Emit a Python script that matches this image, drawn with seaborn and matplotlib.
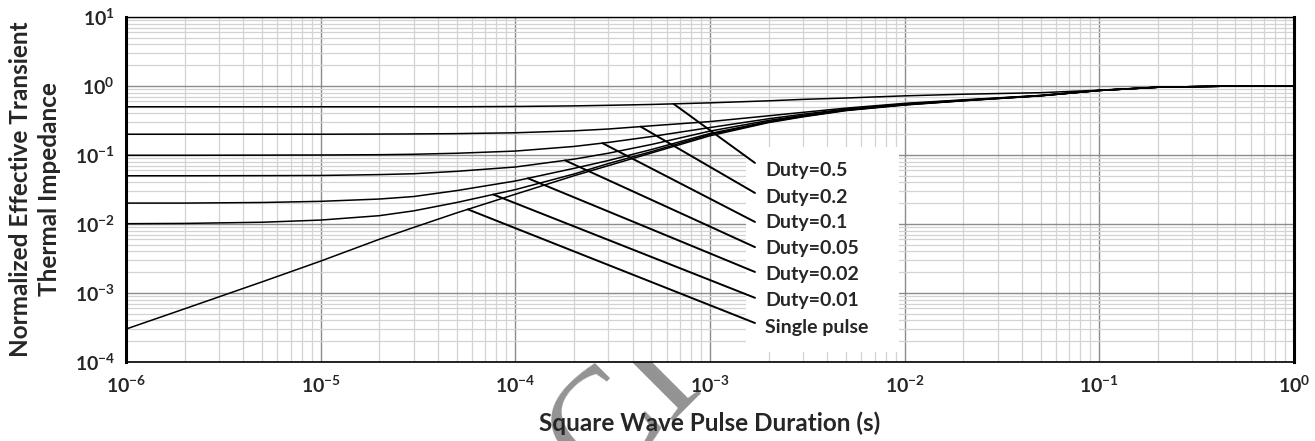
import numpy as np
import pandas as pd
import seaborn as sns
import matplotlib.pyplot as plt
from matplotlib.patches import Rectangle

pulse_t = [1e-6, 2e-6, 5e-6, 1e-5, 2e-5, 3e-5, 5e-5, 1e-4, 2e-4, 3e-4, 5e-4, 1e-3,
           2e-3, 3e-3, 5e-3, 1e-2, 2e-2, 5e-2, 1e-1, 2e-1, 5e-1, 1.0]

# Normalized effective transient thermal impedance, one list per curve
z_d050 = [0.50, 0.50, 0.50, 0.50, 0.50, 0.50, 0.50, 0.505, 0.515, 0.525, 0.54, 0.57,
          0.61, 0.64, 0.67, 0.72, 0.76, 0.80, 0.87, 0.96, 1.0, 1.0]
z_d020 = [0.200, 0.200, 0.200, 0.200, 0.201, 0.202, 0.204, 0.210, 0.224, 0.238, 0.265, 0.305,
          0.37, 0.415, 0.478, 0.56, 0.63, 0.73, 0.865, 0.96, 1.0, 1.0]
z_d010 = [0.099, 0.099, 0.0995, 0.100, 0.101, 0.1025, 0.106, 0.114, 0.133, 0.152, 0.185, 0.25,
          0.335, 0.39, 0.462, 0.55, 0.622, 0.728, 0.863, 0.96, 1.0, 1.0]
z_d005 = [0.050, 0.050, 0.0502, 0.0505, 0.052, 0.0535, 0.058, 0.067, 0.087, 0.106, 0.142, 0.222,
          0.317, 0.375, 0.453, 0.543, 0.618, 0.725, 0.862, 0.96, 1.0, 1.0]
z_d002 = [0.0201, 0.0201, 0.0205, 0.0213, 0.0230, 0.0250, 0.0305, 0.042, 0.064, 0.083, 0.12, 0.205,
          0.305, 0.367, 0.448, 0.538, 0.615, 0.723, 0.862, 0.96, 1.0, 1.0]
z_d001 = [0.0101, 0.0102, 0.0106, 0.0114, 0.0132, 0.0155, 0.0205, 0.0315, 0.053, 0.075, 0.112, 0.198,
          0.30, 0.362, 0.445, 0.534, 0.613, 0.722, 0.861, 0.96, 1.0, 1.0]
z_single = [3.0e-4, 5.9e-4, 1.45e-3, 2.9e-3, 6.0e-3, 8.9e-3, 1.45e-2, 2.7e-2, 5.0e-2, 0.070, 0.107, 0.19,
            0.295, 0.357, 0.44, 0.53, 0.61, 0.72, 0.86, 0.96, 1.0, 1.0]

curve_names = ['Duty=0.5', 'Duty=0.2', 'Duty=0.1', 'Duty=0.05',
               'Duty=0.02', 'Duty=0.01', 'Single pulse']
curve_values = [z_d050, z_d020, z_d010, z_d005, z_d002, z_d001, z_single]

# pulse duration where each leader line touches its curve
leader_t = [6.5e-4, 4.4e-4, 2.8e-4, 1.8e-4, 1.16e-4, 7.7e-5, 5.7e-5]

x_ticks = [1e-6, 1e-5, 1e-4, 1e-3, 1e-2, 1e-1, 1e0]
x_tick_labels = [r'$\mathdefault{10^{-6}}$', r'$\mathdefault{10^{-5}}$', r'$\mathdefault{10^{-4}}$',
                 r'$\mathdefault{10^{-3}}$', r'$\mathdefault{10^{-2}}$', r'$\mathdefault{10^{-1}}$',
                 r'$\mathdefault{10^{0}}$']
y_ticks = [1e-4, 1e-3, 1e-2, 1e-1, 1e0, 1e1]
y_tick_labels = [r'$\mathdefault{10^{-4}}$', r'$\mathdefault{10^{-3}}$', r'$\mathdefault{10^{-2}}$',
                 r'$\mathdefault{10^{-1}}$', r'$\mathdefault{10^{0}}$', r'$\mathdefault{10^{1}}$']

rows = []
for name, vals in zip(curve_names, curve_values):
    for t, z in zip(pulse_t, vals):
        rows.append({'t': t, 'z': z, 'curve': name})
df = pd.DataFrame(rows)

sns.set_theme(style='white')
plt.rcParams['font.family'] = ['Lato', 'DejaVu Sans']
plt.rcParams['font.weight'] = 'bold'

fig = plt.figure(figsize=(13.15, 4.41), dpi=100)
ax = fig.add_axes([126 / 1315, 79 / 441, 1168 / 1315, 345 / 441])
ax.set_xscale('log')
ax.set_yscale('log')

sns.lineplot(data=df, x='t', y='z', hue='curve', palette=['black'] * 7,
             estimator=None, sort=False, legend=False, lw=1.1, ax=ax, zorder=4)

ax.set_xlim(1e-6, 1)
ax.set_ylim(1e-4, 10)
ax.set_xticks(x_ticks, labels=x_tick_labels)
ax.set_yticks(y_ticks, labels=y_tick_labels)
ax.minorticks_on()
ax.tick_params(which='both', length=0)
ax.tick_params(axis='x', pad=9, labelsize=14)
ax.tick_params(axis='y', pad=8, labelsize=14)
ax.xaxis.set_minor_formatter(plt.NullFormatter())
ax.yaxis.set_minor_formatter(plt.NullFormatter())
ax.grid(which='major', color='#8c8c8c', lw=1.0, zorder=1)
ax.grid(which='minor', color='#d3d3d3', lw=0.9, zorder=0)
ax.set_axisbelow(True)
ax.set_xlabel('')
ax.set_ylabel('')

for side, lw in [('left', 2.2), ('right', 2.2), ('top', 1.0), ('bottom', 1.2)]:
    ax.spines[side].set_visible(True)
    ax.spines[side].set_color('black')
    ax.spines[side].set_linewidth(lw)

# white panel behind the curve labels
ax.add_patch(Rectangle((0.531, 0.029), 0.131, 0.594, transform=ax.transAxes,
                       facecolor='white', edgecolor='none', zorder=2))

end_y = [0.577, 0.490, 0.406, 0.333, 0.261, 0.186, 0.113]
label_y = [0.554, 0.478, 0.403, 0.330, 0.255, 0.177, 0.099]
log_t = np.log10(pulse_t)
for name, vals, lt, ey, ly in zip(curve_names, curve_values, leader_t, end_y, label_y):
    z0 = 10 ** np.interp(np.log10(lt), log_t, np.log10(vals))
    ax.annotate('', xy=(lt, z0), xycoords='data', xytext=(0.5385, ey),
                textcoords='axes fraction',
                arrowprops=dict(arrowstyle='-', color='black', lw=1.4,
                                shrinkA=0, shrinkB=0), zorder=5)
    ax.text(0.547, ly, name, transform=ax.transAxes, fontsize=14,
            fontweight='bold', va='center', ha='left', zorder=6)

fig.text(35 / 1315, 1 - 189.5 / 441,
         'Normalized Effective Transient\nThermal Impedance',
         rotation=90, ha='center', va='center', fontsize=17.5,
         fontweight='bold', multialignment='center', linespacing=1.35)
fig.text(710 / 1315, 1 - 423 / 441, 'Square Wave Pulse Duration (s)',
         ha='center', va='center', fontsize=17.5, fontweight='bold')

# faint watermark, cut by the lower edge as in the source image
fig.text(626 / 1315, 1 - 412 / 441, 'CI', family=['Liberation Serif', 'DejaVu Serif'],
         fontsize=108, fontweight='normal', color='#808080', alpha=0.85,
         rotation=45, ha='center', va='center', zorder=-1)

fig.savefig('out.png', dpi=100)
